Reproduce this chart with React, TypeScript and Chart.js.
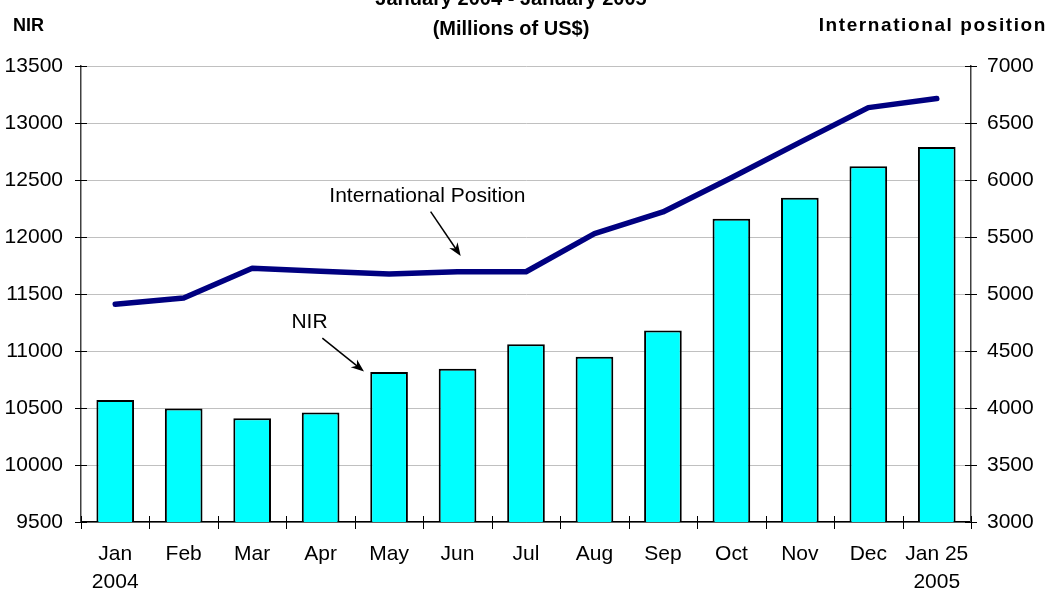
import React, { useEffect, useRef } from "react";
import { Chart, registerables } from "chart.js";

Chart.register(...registerables);

// ---- data ----
const monthLabels: (string | string[])[] = [
  ["Jan", "2004"], "Feb", "Mar", "Apr", "May", "Jun", "Jul", "Aug", "Sep", "Oct", "Nov", "Dec", ["Jan 25", "2005"],
];
const nirValues = [10570, 10495, 10410, 10460, 10815, 10845, 11060, 10950, 11180, 12160, 12345, 12620, 12790];
const intlPositionValues = [4910, 4965, 5225, 5200, 5175, 5195, 5195, 5530, 5720, 6020, 6330, 6635, 6715];

const leftAxis = { min: 9500, max: 13500, step: 500 };
const rightAxis = { min: 3000, max: 7000, step: 500 };

const titleLines = ["January 2004 - January 2005", "(Millions of US$)"];
const leftAxisTitle = "NIR";
const rightAxisTitle = "International position";

// annotations in data space (category index, left-axis value)
const annotations = [
  { text: "International Position", textIndex: 4.56, textValue: 12310, fromIndex: 4.607, fromValue: 12223, toIndex: 5.046, toValue: 11834, mask: true },
  { text: "NIR", textIndex: 2.838, textValue: 11200, fromIndex: 3.025, fromValue: 11113, toIndex: 3.634, toValue: 10820, mask: false },
];

const FONT = '"Liberation Sans", Arial, Helvetica, sans-serif';

function drawArrow(ctx: CanvasRenderingContext2D, x1: number, y1: number, x2: number, y2: number) {
  const ang = Math.atan2(y2 - y1, x2 - x1);
  const L = 13, W = 5;
  const c = Math.cos(ang), s = Math.sin(ang);
  ctx.save();
  ctx.strokeStyle = "#000";
  ctx.fillStyle = "#000";
  ctx.lineWidth = 1.5;
  ctx.beginPath();
  ctx.moveTo(x1, y1);
  ctx.lineTo(x2 - L * 0.6 * c, y2 - L * 0.6 * s);
  ctx.stroke();
  ctx.beginPath();
  ctx.moveTo(x2, y2);
  ctx.lineTo(x2 - L * c + W * s, y2 - L * s - W * c);
  ctx.lineTo(x2 - L * 0.7 * c, y2 - L * 0.7 * s);
  ctx.lineTo(x2 - L * c - W * s, y2 - L * s + W * c);
  ctx.closePath();
  ctx.fill();
  ctx.restore();
}

const overlayPlugin = {
  id: "overlay",
  beforeDatasetsDraw(chart: any) {
    const { ctx, scales } = chart;
    const x = scales.x, y = scales.y;
    ctx.save();
    ctx.font = `21px ${FONT}`;
    for (const a of annotations) {
      const tx = x.getPixelForValue(a.textIndex);
      const ty = y.getPixelForValue(a.textValue);
      const w = ctx.measureText(a.text).width;
      if (a.mask) {
        ctx.fillStyle = "#fff";
        ctx.fillRect(tx - w / 2 - 8, ty - 20, w + 24, 26);
      }
      ctx.fillStyle = "#000";
      ctx.textAlign = "center";
      ctx.textBaseline = "alphabetic";
      ctx.fillText(a.text, tx, ty);
    }
    ctx.restore();
  },
  afterDatasetsDraw(chart: any) {
    const { ctx, scales } = chart;
    const x = scales.x, y = scales.y;
    for (const a of annotations) {
      drawArrow(
        ctx,
        x.getPixelForValue(a.fromIndex), y.getPixelForValue(a.fromValue),
        x.getPixelForValue(a.toIndex), y.getPixelForValue(a.toValue)
      );
    }
  },
  afterDraw(chart: any) {
    const { ctx, scales, chartArea } = chart;
    const x = scales.x, y = scales.y, y1 = scales.y1;
    ctx.save();
    // cross tick marks
    ctx.strokeStyle = "#000";
    ctx.lineWidth = 1;
    ctx.beginPath();
    for (let k = 0; k <= monthLabels.length; k++) {
      const px = Math.round(x.getPixelForValue(k - 0.5)) + 0.5;
      ctx.moveTo(px, chartArea.bottom - 6);
      ctx.lineTo(px, chartArea.bottom + 7);
    }
    for (const t of y.ticks) {
      const py = Math.round(y.getPixelForValue(t.value)) + 0.5;
      ctx.moveTo(chartArea.left - 6, py);
      ctx.lineTo(chartArea.left + 6, py);
    }
    for (const t of y1.ticks) {
      const py = Math.round(y1.getPixelForValue(t.value)) + 0.5;
      ctx.moveTo(chartArea.right - 6, py);
      ctx.lineTo(chartArea.right + 6, py);
    }
    ctx.stroke();

    // titles
    ctx.fillStyle = "#000";
    ctx.textBaseline = "alphabetic";
    ctx.font = `bold 20px ${FONT}`;
    ctx.textAlign = "center";
    ctx.fillText(titleLines[0], 511, 5);
    ctx.fillText(titleLines[1], 511, 35);
    ctx.font = `bold 18px ${FONT}`;
    ctx.textAlign = "left";
    ctx.fillText(leftAxisTitle, 13, 31);
    ctx.font = `bold 19px ${FONT}`;
    (ctx as any).letterSpacing = "1.6px";
    ctx.textAlign = "right";
    ctx.fillText(rightAxisTitle, 1047, 31);
    ctx.restore();
  },
};

export default function App() {
  const ref = useRef<HTMLCanvasElement>(null);

  useEffect(() => {
    const tickFont = { family: FONT, size: 21 };
    const plain = (v: any) => String(v);
    const chart = new Chart(ref.current as HTMLCanvasElement, {
      type: "bar",
      data: {
        labels: monthLabels as any,
        datasets: [
          {
            type: "line",
            label: "International Position",
            data: intlPositionValues,
            yAxisID: "y1",
            borderColor: "#000080",
            backgroundColor: "#000080",
            borderWidth: 5.5,
            pointRadius: 0,
            tension: 0,
            borderCapStyle: "round",
            borderJoinStyle: "round",
            order: 0,
          } as any,
          {
            type: "bar",
            label: "NIR",
            data: nirValues,
            yAxisID: "y",
            backgroundColor: "#00ffff",
            borderColor: "#000",
            borderWidth: 2,
            borderSkipped: false,
            barPercentage: 0.55,
            categoryPercentage: 1,
            order: 1,
          } as any,
        ],
      },
      options: {
        responsive: false,
        animation: false,
        devicePixelRatio: 1,
        layout: { padding: { top: 66, left: 0, right: 0, bottom: 0 } },
        plugins: {
          legend: { display: false },
          tooltip: { enabled: false },
          title: { display: false },
        },
        scales: {
          x: {
            offset: true,
            grid: { drawOnChartArea: false, offset: true, tickLength: 6, tickColor: "transparent" },
            border: { color: "#000", width: 1.5 },
            ticks: { color: "#000", font: { ...tickFont, lineHeight: 1.35 }, padding: 12, maxRotation: 0, autoSkip: false },
            afterFit: (s: any) => { s.height = 70; },
          },
          y: {
            position: "left",
            min: leftAxis.min,
            max: leftAxis.max,
            ticks: { stepSize: leftAxis.step, color: "#000", font: tickFont, padding: 12, callback: plain },
            grid: { color: "#c0c0c0", lineWidth: 1, tickLength: 6, tickColor: "transparent" },
            border: { color: "#404040", width: 1.5 },
            afterFit: (s: any) => { s.width = 81; },
          },
          y1: {
            position: "right",
            min: rightAxis.min,
            max: rightAxis.max,
            ticks: { stepSize: rightAxis.step, color: "#000", font: tickFont, padding: 10, callback: plain },
            grid: { drawOnChartArea: false, tickLength: 6, tickColor: "transparent" },
            border: { color: "#404040", width: 1.5 },
            afterFit: (s: any) => { s.width = 80; },
          },
        },
      } as any,
      plugins: [overlayPlugin],
    });
    return () => chart.destroy();
  }, []);

  return (
    <div style={{ position: "absolute", left: 0, top: 0, width: 1051, height: 592, background: "#fff" }}>
      <canvas ref={ref} width={1051} height={592} style={{ display: "block" }} />
    </div>
  );
}
